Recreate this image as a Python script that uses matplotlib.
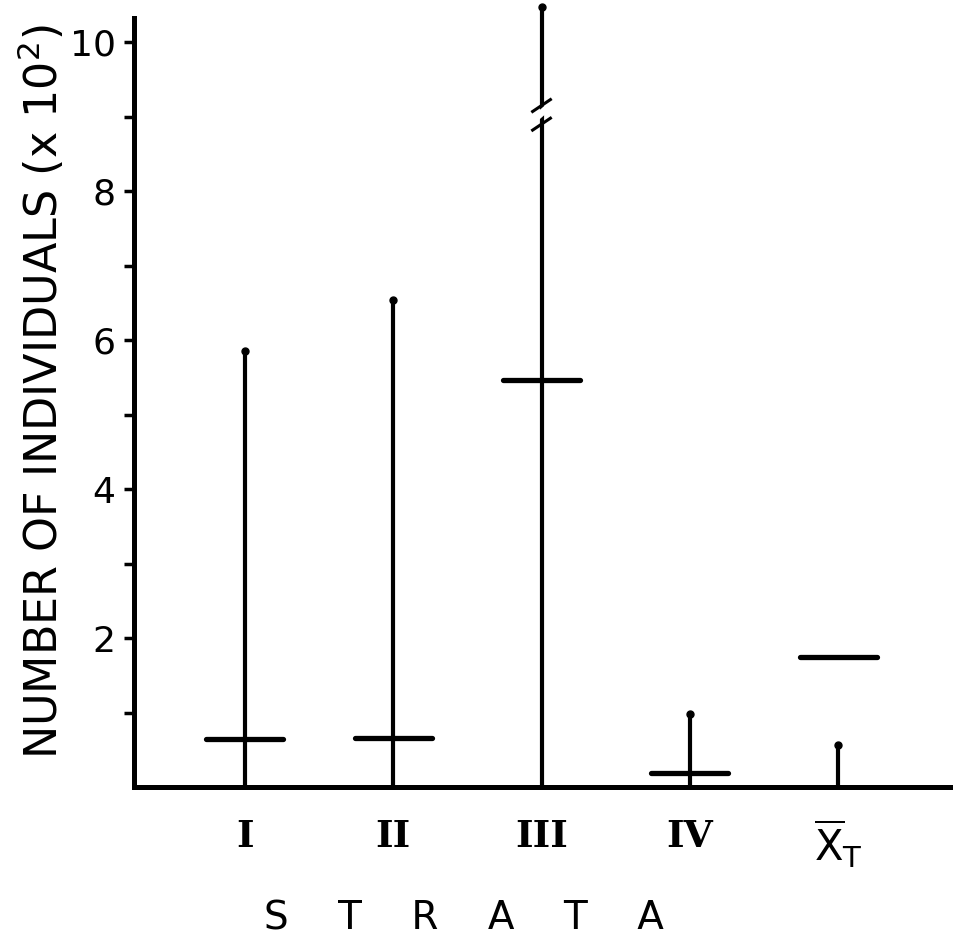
import matplotlib
matplotlib.use("Agg")
import matplotlib.pyplot as plt
from matplotlib.ticker import FixedLocator

categories = ["I", "II", "III", "IV", r"$\overline{\mathrm{X}}_{\mathrm{T}}$"]
range_top = [5.85, 6.54, 10.47, 0.98, 0.56]
means = [0.64, 0.66, 5.46, 0.19, 1.74]
major_ticks = [2, 4, 6, 8, 10]
minor_ticks = [1, 3, 5, 7, 9]

plt.rcParams['mathtext.fontset'] = 'dejavusans'
fig = plt.figure(figsize=(9.55, 9.44), dpi=100)
ax = fig.add_axes([0.140, 0.1663, 0.855, 0.815])

x = list(range(1, len(categories) + 1))
for xi, top, m in zip(x, range_top, means):
    ax.plot([xi, xi], [0, top], color='black', lw=3.0, solid_capstyle='butt',
            clip_on=False, zorder=3)
    ax.plot([xi], [top], 'o', color='black', ms=5, clip_on=False, zorder=3)
    ax.plot([xi - 0.26, xi + 0.26], [m, m], color='black', lw=3.8,
            solid_capstyle='round', clip_on=False, zorder=3)

# break marks on stratum III
bx = 3
ax.plot([bx - 0.04, bx + 0.04], [8.98, 9.12], color='white', lw=5, zorder=4, clip_on=False)
for yb in (8.90, 9.15):
    ax.plot([bx - 0.06, bx + 0.06], [yb - 0.08, yb + 0.08], color='black', lw=2.2,
            zorder=5, clip_on=False)

ax.set_xlim(0.251, 5.755)
ax.set_ylim(0, 10.33)

ax.spines['top'].set_visible(False)
ax.spines['right'].set_visible(False)
for s in ('left', 'bottom'):
    ax.spines[s].set_linewidth(3.6)
    ax.spines[s].set_capstyle('projecting')

ax.yaxis.set_major_locator(FixedLocator(major_ticks))
ax.yaxis.set_minor_locator(FixedLocator(minor_ticks))
ax.tick_params(axis='y', which='both', direction='out', length=7, width=2.5,
               labelsize=26, pad=6)
ax.set_yticklabels([str(v) for v in major_ticks])

ax.set_xticks(x)
ax.set_xticklabels(categories)
ax.tick_params(axis='x', length=0, pad=22)
for i, lbl in enumerate(ax.get_xticklabels()):
    if i < 4:
        lbl.set_fontfamily('DejaVu Serif')
        lbl.set_fontweight('bold')
        lbl.set_fontsize(27)
    else:
        lbl.set_fontsize(30)

fig.text(0.044, 0.585, r"NUMBER OF INDIVIDUALS (x 10$^2$)", rotation=90,
         ha='center', va='center', fontsize=32)
fig.text(0.486, 0.027, "S    T    R    A    T    A", ha='center', va='center',
         fontsize=28)

fig.savefig("out.png", dpi=100)
